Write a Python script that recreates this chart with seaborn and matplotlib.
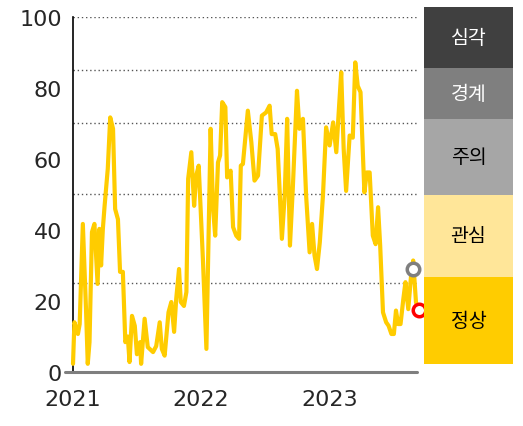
import pandas as pd
import matplotlib
matplotlib.use('Agg')
import matplotlib.pyplot as plt
import matplotlib.dates as mdates
import seaborn as sns

# traced index values (weekly-ish)
dates = [
    '2021-01-01', '2021-01-05', '2021-01-15', '2021-01-20', '2021-01-29', '2021-02-07',
    '2021-02-12', '2021-02-17', '2021-02-24', '2021-03-03', '2021-03-12', '2021-03-17',
    '2021-03-22', '2021-03-27', '2021-04-01', '2021-04-10', '2021-04-17', '2021-04-25',
    '2021-05-01', '2021-05-09', '2021-05-15', '2021-05-23', '2021-05-30', '2021-06-06',
    '2021-06-11', '2021-06-18', '2021-06-26', '2021-07-02', '2021-07-11', '2021-07-14',
    '2021-07-24', '2021-08-02', '2021-08-17', '2021-08-26', '2021-09-05', '2021-09-11',
    '2021-09-19', '2021-09-30', '2021-10-08', '2021-10-16', '2021-10-22', '2021-10-30',
    '2021-11-04', '2021-11-13', '2021-11-20', '2021-11-25', '2021-12-04', '2021-12-12',
    '2021-12-18', '2021-12-25', '2022-01-06', '2022-01-16', '2022-01-28', '2022-02-04',
    '2022-02-10', '2022-02-18', '2022-02-24', '2022-03-02', '2022-03-11', '2022-03-16',
    '2022-03-26', '2022-04-02', '2022-04-11', '2022-04-19', '2022-04-24', '2022-04-30',
    '2022-05-14', '2022-05-24', '2022-06-02', '2022-06-12', '2022-06-23', '2022-07-05',
    '2022-07-15', '2022-07-21', '2022-07-31', '2022-08-07', '2022-08-19', '2022-08-27',
    '2022-09-03', '2022-09-11', '2022-09-19', '2022-10-01', '2022-10-08', '2022-10-18',
    '2022-10-27', '2022-11-06', '2022-11-13', '2022-11-20', '2022-11-27', '2022-12-05',
    '2022-12-14', '2022-12-23', '2023-01-02', '2023-01-12', '2023-01-21', '2023-01-29',
    '2023-02-04', '2023-02-11', '2023-02-18', '2023-02-28', '2023-03-09', '2023-03-16',
    '2023-03-23', '2023-03-31', '2023-04-11', '2023-04-18', '2023-04-26', '2023-05-05',
    '2023-05-13', '2023-05-20', '2023-05-26', '2023-06-03', '2023-06-12', '2023-06-19',
    '2023-06-27', '2023-07-04', '2023-07-10', '2023-07-16', '2023-07-23', '2023-07-31',
    '2023-08-06', '2023-08-14', '2023-08-22', '2023-08-28', '2023-09-05', '2023-09-13',
]
values = [
    2.3, 14, 10.7, 13.5, 41.7, 17.7,
    2.3, 8.4, 39.4, 41.7, 24.8, 40.3,
    30, 40.3, 46.8, 57.2, 71.7, 68.5,
    45.9, 43, 28.2, 28.2, 8.4, 10,
    2.8, 15.8, 13, 5, 8.4, 2.3,
    15, 7, 5.6, 7.3, 14, 6.5,
    4.6, 16.8, 19.7, 11.3, 20.6, 29,
    19.7, 18.6, 22.5, 54.4, 61.9, 46.8,
    55.3, 58.1, 31.8, 6.5, 68.5, 46,
    38.4, 59, 61, 76, 74.6, 54.8,
    56.7, 40.8, 38.4, 37.5, 58.1, 58.6,
    73.6, 64.7, 53.9, 55.3, 72.2, 73.1,
    75, 67, 67, 62.8, 37.5, 49.7,
    71.3, 35.6, 51.5, 79.2, 68.5, 71.3,
    49.7, 33.7, 41.7, 32.8, 29, 36.5,
    49.7, 68.9, 63.8, 70.3, 61.9, 75,
    84.4, 62.8, 51, 66.6, 66, 87.2,
    80.6, 78.8, 50.6, 56.2, 56.2, 38.4,
    36, 46.4, 35.6, 16.8, 14, 13,
    10.7, 10.7, 17.3, 13.5, 13.5, 20.6,
    25.3, 17.7, 27.1, 31.4, 19.6, 17.5,
]

# previous reading (grey) and latest reading (red)
prev_date, prev_value = '2023-08-28', 29
last_date, last_value = '2023-09-13', 17.5

# alert bands (bottom to top) and dotted threshold lines
band_labels = ['정상', '관심', '주의', '경계', '심각']
grid_levels = [25, 50, 70, 85, 100]

year_ticks = ['2021-01-01', '2022-01-01', '2023-01-01']

# look of the side legend boxes
band_colors = ['#ffcc00', '#ffe699', '#a6a6a6', '#7f7f7f', '#404040']
band_text = ['black', 'black', 'black', 'white', 'white']
box_px = [87, 82, 76, 51, 61]

sns.set_style('white')
plt.rcParams['font.family'] = ['Noto Sans CJK KR', 'DejaVu Sans']

df = pd.DataFrame({'date': pd.to_datetime(dates), 'value': values})

fig = plt.figure(figsize=(5.23, 4.27), dpi=100)
ax = fig.add_axes([0.1396, 0.1265, 0.6578, 0.8315])

for lv in grid_levels:
    ax.axhline(lv, color='#555555', linestyle=(0, (1, 2)), linewidth=1.0, zorder=1)

sns.lineplot(data=df, x='date', y='value', ax=ax, color='#ffcc00', linewidth=3.0,
             zorder=3, clip_on=False)

ax.plot(pd.to_datetime([prev_date]), [prev_value], 'o', ms=9, mfc='white',
        mec='#7f7f7f', mew=2.5, zorder=5, clip_on=False)
ax.plot(pd.to_datetime([last_date]), [last_value], 'o', ms=9, mfc='white',
        mec='red', mew=2.5, zorder=5, clip_on=False)

ax.set_xlim(pd.Timestamp('2021-01-01'), pd.Timestamp('2023-09-08'))
ax.set_ylim(0, 100)
ax.set_yticks([0, 20, 40, 60, 80, 100])
ax.set_xticks(pd.to_datetime(year_ticks))
ax.xaxis.set_major_formatter(mdates.DateFormatter('%Y'))
ax.set_xlabel('')
ax.set_ylabel('')

for side in ['top', 'right', 'bottom']:
    ax.spines[side].set_visible(False)
ax.spines['left'].set_color('black')
ax.spines['left'].set_linewidth(1.2)
# bottom axis line, running a little past the y axis
ax.plot([-0.023, 1.0], [0, 0], transform=ax.transAxes, color='#7f7f7f',
        linewidth=2.2, clip_on=False, zorder=4)
ax.tick_params(axis='y', direction='out', length=5, width=1.2, color='black',
               labelsize=16, pad=3)
ax.tick_params(axis='x', direction='out', length=6, width=1.2, color='black',
               labelsize=16, pad=6)
for lab in ax.get_xticklabels() + ax.get_yticklabels():
    lab.set_family(['DejaVu Sans'])

# right-hand legend boxes
bx = fig.add_axes([0.8107, 0.1452, 0.1702, 0.8361])
bottom = 0
for i, lab in enumerate(band_labels):
    bx.bar(0, box_px[i], bottom=bottom, width=1, color=band_colors[i], edgecolor='none')
    bx.text(0, bottom + box_px[i] / 2, lab, ha='center', va='center', fontsize=14,
            color=band_text[i], fontweight='medium')
    bottom += box_px[i]
bx.set_xlim(-0.5, 0.5)
bx.set_ylim(0, sum(box_px))
bx.axis('off')

fig.savefig('out.png', dpi=100)
